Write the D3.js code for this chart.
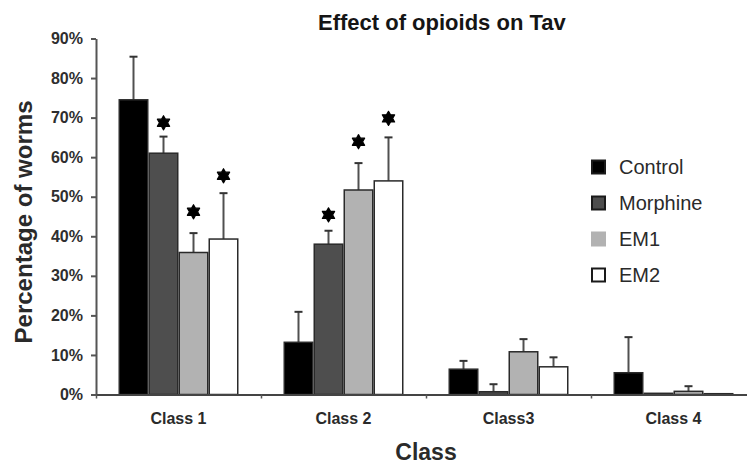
<!DOCTYPE html>
<html>
<head>
<meta charset="utf-8">
<script src="https://cdn.jsdelivr.net/npm/d3@7/dist/d3.min.js"></script>
<style>
  html, body { margin: 0; padding: 0; background: #fff; }
  svg { display: block; font-family: Arial, "Liberation Sans", Helvetica, sans-serif; }
</style>
</head>
<body>
<div id="chart"></div>
<script>
// Percentage of worms in each class after opioid treatment (mean, upward SD)
const categories = ["Class 1", "Class 2", "Class3", "Class 4"];
const seriesNames = ["Control", "Morphine", "EM1", "EM2"];

const controlValues  = [74.5, 13.2, 6.4, 5.5];
const morphineValues = [61.0, 38.0, 0.7, 0.3];
const em1Values      = [35.9, 51.7, 10.8, 0.8];
const em2Values      = [39.3, 54.0, 7.0, 0.2];

const controlErr  = [10.9, 7.7, 2.1, 9.0];
const morphineErr = [4.2, 3.4, 1.9, 0];
const em1Err      = [4.9, 6.8, 3.2, 1.3];
const em2Err      = [11.6, 11.0, 2.4, 0];

// Height (in %) of the significance asterisks; null = no marker
const controlStars  = [null, null, null, null];
const morphineStars = [68.7, 45.4, null, null];
const em1Stars      = [46.2, 63.9, null, null];
const em2Stars      = [55.3, 69.8, null, null];

const yTicks = [0, 10, 20, 30, 40, 50, 60, 70, 80, 90];

const chartTitle = "Effect of opioids on Tav";
const xTitle = "Class";
const yTitle = "Percentage of worms";

const seriesFill = ["#000000", "#4e4e4e", "#b2b2b2", "#ffffff"];

const values = [controlValues, morphineValues, em1Values, em2Values];
const errors = [controlErr, morphineErr, em1Err, em2Err];
const stars  = [controlStars, morphineStars, em1Stars, em2Stars];

const W = 747, H = 466;
const svg = d3.select("#chart").append("svg")
  .attr("width", W).attr("height", H)
  .style("background", "#fff");

const x0 = d3.scaleBand().domain(categories).range([96, 756]).padding(0);
const x1 = d3.scaleBand().domain(seriesNames).range([22.5, x0.bandwidth() - 22.5]).padding(0);
const y = d3.scaleLinear().domain([0, 90]).range([394.5, 38.5]);
const color = d3.scaleOrdinal().domain(seriesNames).range(seriesFill);

const rows = [];
seriesNames.forEach((s, si) => {
  categories.forEach((c, ci) => {
    rows.push({ series: s, cat: c, v: values[si][ci], e: errors[si][ci], star: stars[si][ci] });
  });
});

// Title
svg.append("text")
  .attr("x", 318).attr("y", 30)
  .attr("font-size", 22).attr("font-weight", "bold").attr("fill", "#151515")
  .text(chartTitle);

// Error bars (drawn first so bar tops cover their base)
const eg = svg.append("g").attr("stroke", "#505050").attr("stroke-width", 2);
rows.filter(d => d.e > 0).forEach(d => {
  const cx = x0(d.cat) + x1(d.series) + x1.bandwidth() / 2;
  eg.append("line").attr("x1", cx).attr("x2", cx).attr("y1", y(d.v)).attr("y2", y(d.v + d.e));
  eg.append("line").attr("x1", cx - 4).attr("x2", cx + 4).attr("y1", y(d.v + d.e)).attr("y2", y(d.v + d.e))
    .attr("stroke", "#333");
});

// Bars
svg.append("g").selectAll("rect").data(rows).join("rect")
  .attr("x", d => x0(d.cat) + x1(d.series) + 0.75)
  .attr("y", d => y(d.v))
  .attr("width", x1.bandwidth() - 1.5)
  .attr("height", d => y(0) - y(d.v))
  .attr("fill", d => color(d.series))
  .attr("stroke", "#2a2a2a").attr("stroke-width", 1.5);

// Six-pointed star used for significance
const starSymbol = {
  draw(ctx, size) {
    const ro = Math.sqrt(size / 2.2), ri = ro * 0.58;
    for (let i = 0; i < 12; i++) {
      const a = -Math.PI / 2 + i * Math.PI / 6;
      const r = i % 2 === 0 ? ro : ri;
      const px = r * Math.cos(a), py = r * Math.sin(a);
      if (i === 0) ctx.moveTo(px, py); else ctx.lineTo(px, py);
    }
    ctx.closePath();
  }
};
svg.append("g").selectAll("path").data(rows.filter(d => d.star != null)).join("path")
  .attr("transform", d => `translate(${x0(d.cat) + x1(d.series) + x1.bandwidth() / 2},${y(d.star)})`)
  .attr("d", d3.symbol().type(starSymbol).size(110))
  .attr("fill", "#000").attr("stroke", "#000").attr("stroke-width", 1.2).attr("stroke-linejoin", "round");

// Y axis
const yAxis = svg.append("g").attr("transform", "translate(96,0)")
  .call(d3.axisLeft(y).tickValues(yTicks).tickFormat(d => d + "%").tickSize(5).tickSizeOuter(0).tickPadding(8));
yAxis.select(".domain").attr("stroke", "#555").attr("stroke-width", 2);
yAxis.selectAll(".tick line").attr("stroke", "#555").attr("stroke-width", 2);
yAxis.selectAll(".tick text")
  .attr("font-size", 16).attr("font-weight", "bold").attr("fill", "#2e2e2e")
  .attr("font-family", "Arial, 'Liberation Sans', sans-serif");

// X axis: baseline with category separators
const xb = d3.scaleLinear().domain([0, categories.length]).range(x0.range());
const xAxis = svg.append("g").attr("transform", `translate(0,${y(0)})`)
  .call(d3.axisBottom(xb).tickValues(d3.range(categories.length + 1)).tickFormat("").tickSize(4).tickSizeOuter(0));
xAxis.select(".domain").attr("stroke", "#444").attr("stroke-width", 2);
xAxis.selectAll(".tick line").attr("stroke", "#555").attr("stroke-width", 1.5);

svg.append("g").selectAll("text").data(categories).join("text")
  .attr("x", d => x0(d) + x0.bandwidth() / 2)
  .attr("y", 424)
  .attr("text-anchor", "middle")
  .attr("font-size", 16).attr("font-weight", "bold").attr("fill", "#2a2a2a")
  .text(d => d);

// Axis titles
svg.append("text")
  .attr("x", 426).attr("y", 460)
  .attr("text-anchor", "middle")
  .attr("font-size", 23).attr("font-weight", "bold").attr("fill", "#2a2a2a")
  .text(xTitle);

svg.append("text")
  .attr("transform", "translate(32,222) rotate(-90)")
  .attr("text-anchor", "middle")
  .attr("font-size", 23).attr("font-weight", "bold").attr("fill", "#2a2a2a")
  .attr("textLength", 243).attr("lengthAdjust", "spacingAndGlyphs")
  .text(yTitle);

// Legend
const legend = svg.append("g").selectAll("g").data(seriesNames).join("g")
  .attr("transform", (d, i) => `translate(591,${167 + i * 36})`);
legend.append("rect")
  .attr("x", 1).attr("y", -6.5).attr("width", 13).attr("height", 13)
  .attr("fill", d => color(d))
  .attr("stroke", d => d === "EM1" ? "#b2b2b2" : "#1a1a1a").attr("stroke-width", 2);
legend.append("text")
  .attr("x", 28).attr("y", 7)
  .attr("font-size", 20).attr("fill", "#2a2a2a")
  .text(d => d);
</script>
</body>
</html>
